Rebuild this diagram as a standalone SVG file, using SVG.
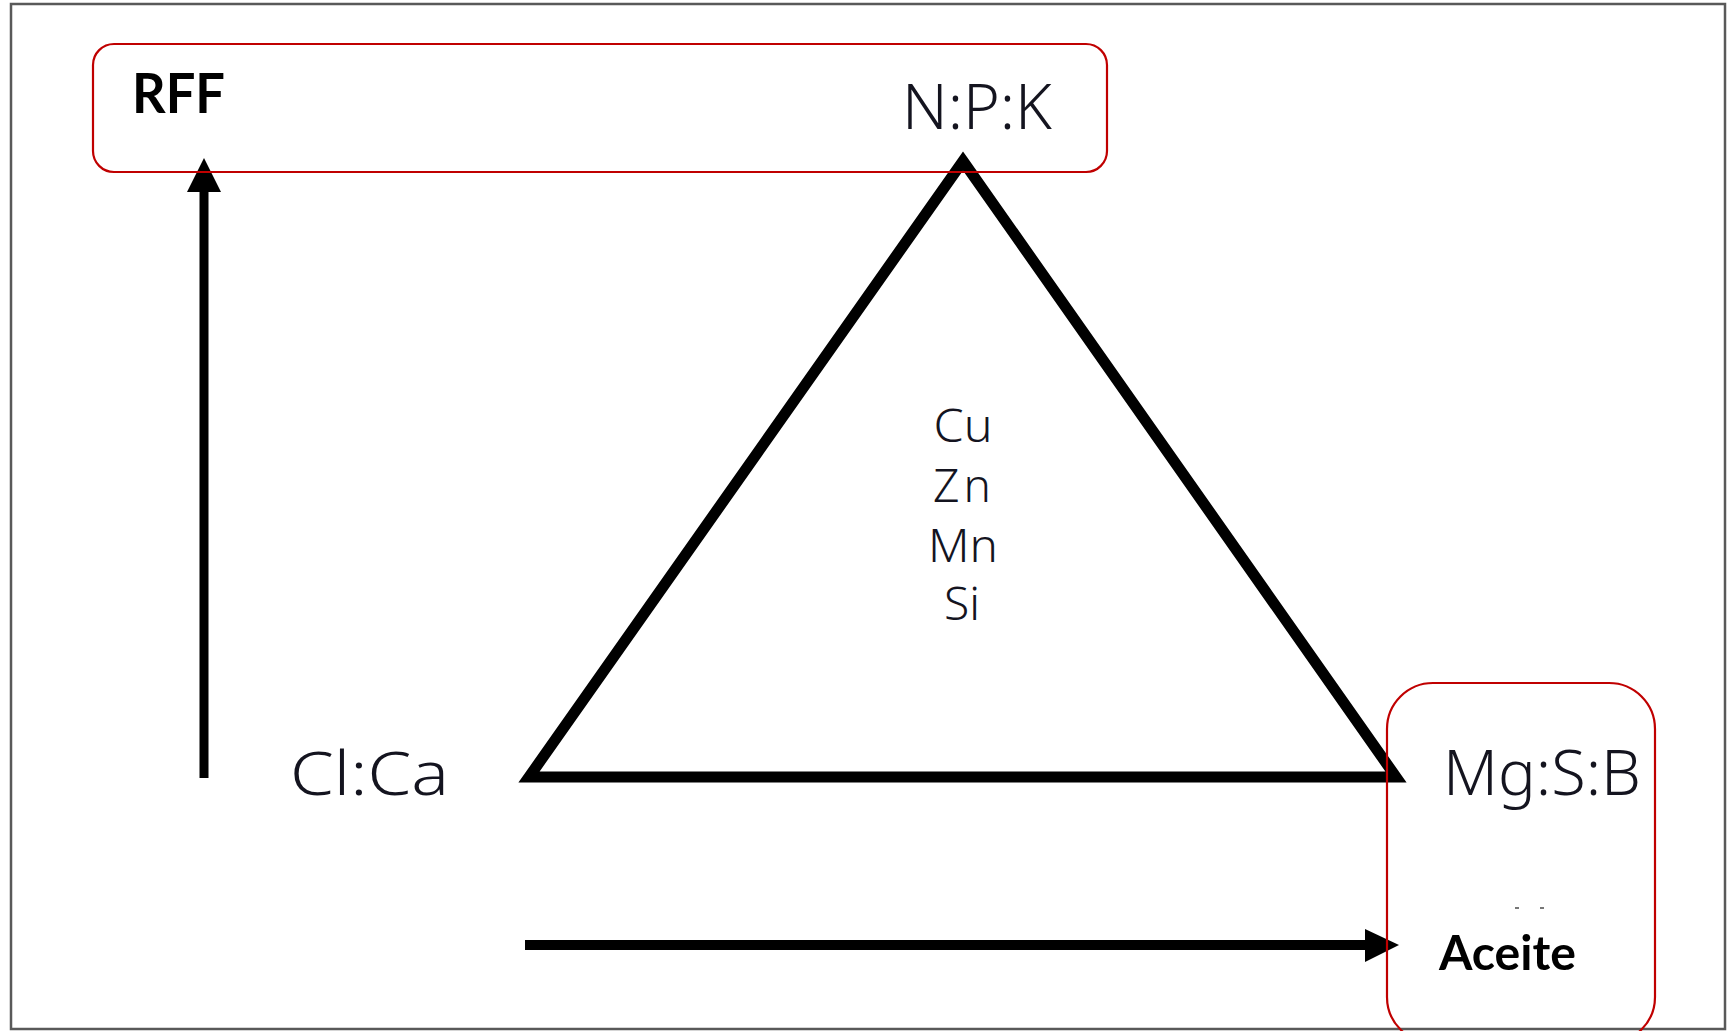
<svg xmlns="http://www.w3.org/2000/svg" width="1727" height="1031" viewBox="0 0 1727 1031">
<style>
.frame{fill:#fff;stroke:#595959;stroke-width:2.5}
.box{fill:none;stroke:#c00000;stroke-width:2.2}
.thin{font-family:"Noto Sans","Liberation Sans",sans-serif;font-weight:300;fill:#14141f}
.bold{font-family:"Lato","Open Sans","Liberation Sans",sans-serif;font-weight:700;fill:#000}
.line{stroke:#000;fill:none}
</style>
<rect class="frame" x="11" y="4" width="1714" height="1025"/>
<g id="connectors">
<line class="line" x1="204" y1="778" x2="204" y2="190" stroke-width="9"/>
<polygon points="187,192 221,192 204,158" fill="#000"/>
<line class="line" x1="525" y1="945" x2="1367" y2="945" stroke-width="10"/>
<polygon points="1365,929 1365,962 1399,945" fill="#000"/>
</g>
<g id="triangle">
<polygon class="line" points="963,161 1396,777 529,777" stroke-width="11" stroke-linejoin="miter"/>
<text class="thin" font-size="46" text-anchor="middle" x="963" y="442" textLength="59" lengthAdjust="spacingAndGlyphs">Cu</text>
<text class="thin" font-size="46" text-anchor="middle" x="962" y="502" textLength="58" lengthAdjust="spacing">Zn</text>
<text class="thin" font-size="46" text-anchor="middle" x="963" y="562" textLength="70" lengthAdjust="spacingAndGlyphs">Mn</text>
<text class="thin" font-size="46" text-anchor="middle" x="962" y="620" textLength="36" lengthAdjust="spacingAndGlyphs">Si</text>
</g>
<g id="rff">
<rect class="box" x="93" y="44" width="1014" height="128" rx="21"/>
<text class="bold" font-size="56" x="132" y="113" textLength="93" lengthAdjust="spacingAndGlyphs">RFF</text>
</g>
<g id="npk">
<text class="thin" font-size="62" x="902" y="129" textLength="150" lengthAdjust="spacingAndGlyphs">N:P:K</text>
</g>
<g id="clca">
<text class="thin" font-size="61" x="290" y="795" textLength="159" lengthAdjust="spacingAndGlyphs">Cl:Ca</text>
</g>
<g id="aceite">
<rect class="box" x="1387" y="683" width="268" height="360" rx="46"/>
<text class="thin" font-size="62" x="1443" y="795" textLength="198" lengthAdjust="spacingAndGlyphs">Mg:S:B</text>
<line x1="1515" y1="908" x2="1519" y2="908" stroke="#777" stroke-width="2"/>
<line x1="1540" y1="908" x2="1544" y2="908" stroke="#777" stroke-width="2"/>
<text class="bold" font-size="48" x="1439" y="970" textLength="137" lengthAdjust="spacingAndGlyphs">Aceite</text>
</g>
</svg>
